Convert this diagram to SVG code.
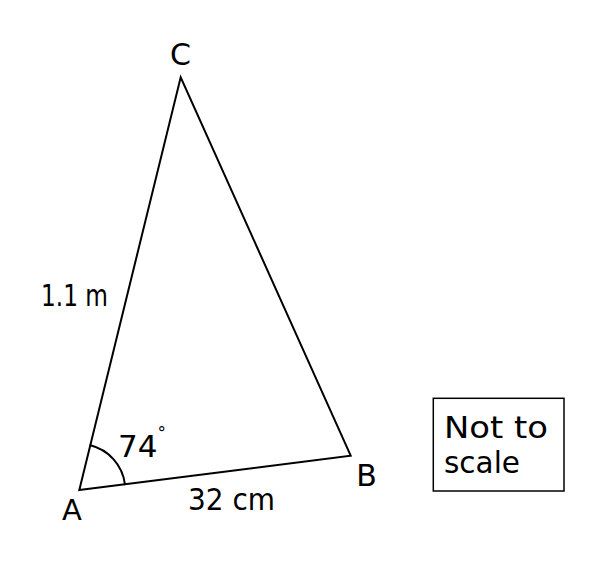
<svg xmlns="http://www.w3.org/2000/svg" width="605" height="562" viewBox="0 0 605 562">
<style>
.edge{fill:none;stroke:#000;stroke-width:2;stroke-linejoin:miter;stroke-linecap:round}
.lbl{font-family:"DejaVu Sans","Liberation Sans",sans-serif;fill:#000}
</style>
<rect width="605" height="562" fill="#fff"/>
<g id="connectors">
<path class="edge" d="M79.3,490 L350.7,455.7 L180.7,77.3 Z"/>
<path id="angle-arc" class="edge" d="M90.3,445.3 A46,46 0 0 1 124.9,484.2"/>
</g>
<g id="vertex-A"><text class="lbl" x="72" y="520" font-size="29" text-anchor="middle">A</text></g>
<g id="vertex-B"><text class="lbl" x="366.5" y="485.5" font-size="30" text-anchor="middle">B</text></g>
<g id="vertex-C"><text class="lbl" x="180.5" y="65" font-size="30" text-anchor="middle">C</text></g>
<g id="side-AC"><text class="lbl" x="41" y="306" font-size="31" textLength="67" lengthAdjust="spacingAndGlyphs">1.1 m</text></g>
<g id="side-AB"><text class="lbl" x="188" y="510" font-size="30" textLength="87" lengthAdjust="spacingAndGlyphs">32 cm</text></g>
<g id="angle-A"><text class="lbl" x="118" y="457" font-size="31">74<tspan font-size="17" dy="-18">°</tspan></text></g>
<g id="note">
<rect x="433.3" y="398.3" width="130.7" height="92.7" fill="none" stroke="#000" stroke-width="1.5"/>
<text class="lbl" x="444" y="438" font-size="31" textLength="104" lengthAdjust="spacingAndGlyphs">Not to</text>
<text class="lbl" x="444" y="473" font-size="31" textLength="76" lengthAdjust="spacingAndGlyphs">scale</text>
</g>
</svg>
